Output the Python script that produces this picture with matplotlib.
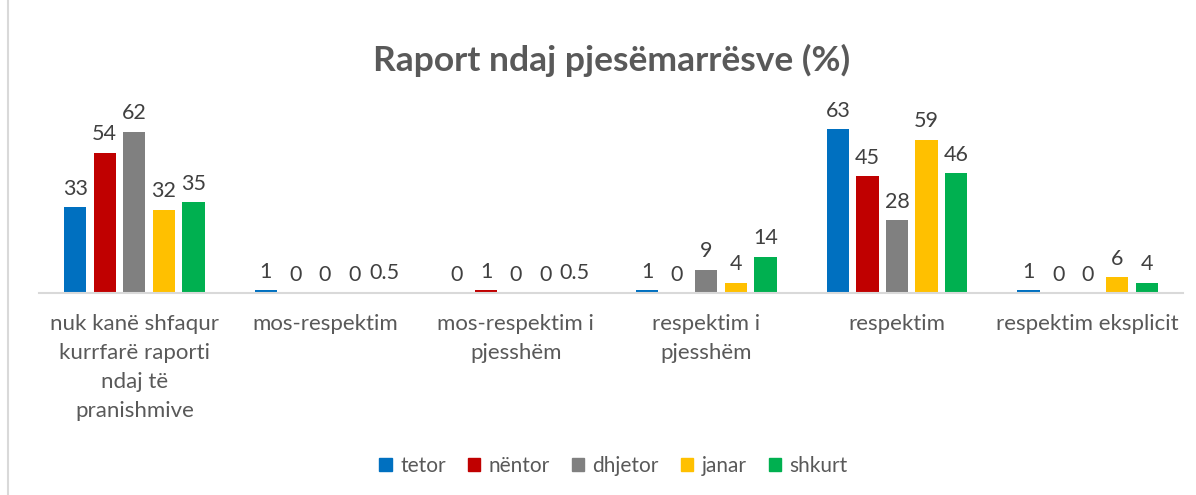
import numpy as np
import matplotlib
matplotlib.use("Agg")
import matplotlib.pyplot as plt
from matplotlib.lines import Line2D

plt.rcParams['font.family'] = ['Lato', 'DejaVu Sans']

categories = [
    "nuk kanë shfaqur\nkurrfarë raporti\nndaj të\npranishmive",
    "mos-respektim",
    "mos-respektim i\npjesshëm",
    "respektim i\npjesshëm",
    "respektim",
    "respektim eksplicit",
]
series = ["tetor", "nëntor", "dhjetor", "janar", "shkurt"]
tetor = [33, 1, 0, 1, 63, 1]
nentor = [54, 0, 1, 0, 45, 0]
dhjetor = [62, 0, 0, 9, 28, 0]
janar = [32, 0, 0, 4, 59, 6]
shkurt = [35, 0.5, 0.5, 14, 46, 4]
values = [tetor, nentor, dhjetor, janar, shkurt]
colors = ["#0070c0", "#c00000", "#808080", "#ffc000", "#00b050"]

fig = plt.figure(figsize=(11.96, 4.95), dpi=100)
ax = fig.add_axes([39 / 1196, 1 - 293 / 495, 1144 / 1196, 182 / 495])

x = np.arange(len(categories))
step = 0.155
width = 0.117
for i, (name, vals, c) in enumerate(zip(series, values, colors)):
    pos = x + (i - 2) * step
    ax.bar(pos, vals, width, color=c, label=name)
    for p, v in zip(pos, vals):
        ax.annotate(f"{v:g}", (p, v), xytext=(0, 6), textcoords="offset points",
                    ha="center", va="bottom", fontsize=15.5, color="#404040")

ax.set_xlim(-0.5, len(categories) - 0.5)
ax.set_ylim(0, 70)
ax.set_yticks([])
ax.set_xticks(x)
ax.set_xticklabels(categories, fontsize=16, color="#595959", linespacing=1.56)
ax.tick_params(axis="x", length=0, pad=15)
for s in ["top", "right", "left"]:
    ax.spines[s].set_visible(False)
ax.spines["bottom"].set_color("#d9d9d9")
ax.spines["bottom"].set_linewidth(1.5)

fig.text(0.511, 1 - 60 / 495, "Raport ndaj pjesëmarrësve (%)", ha="center", va="center",
         fontsize=25.5, fontweight="bold", color="#595959")

handles = [plt.Rectangle((0, 0), 1, 1, color=c) for c in colors]
fig.legend(handles, series, loc="center", bbox_to_anchor=(0.513, 1 - 466 / 495), ncol=5,
           frameon=False, fontsize=15, labelcolor="#595959", handlelength=0.6,
           handleheight=0.6, handletextpad=0.4, columnspacing=1.05)

fig.add_artist(Line2D([8 / 1196, 8 / 1196], [0, 1], color="#d9d9d9", lw=1.5))

fig.savefig("out.png", dpi=100)
